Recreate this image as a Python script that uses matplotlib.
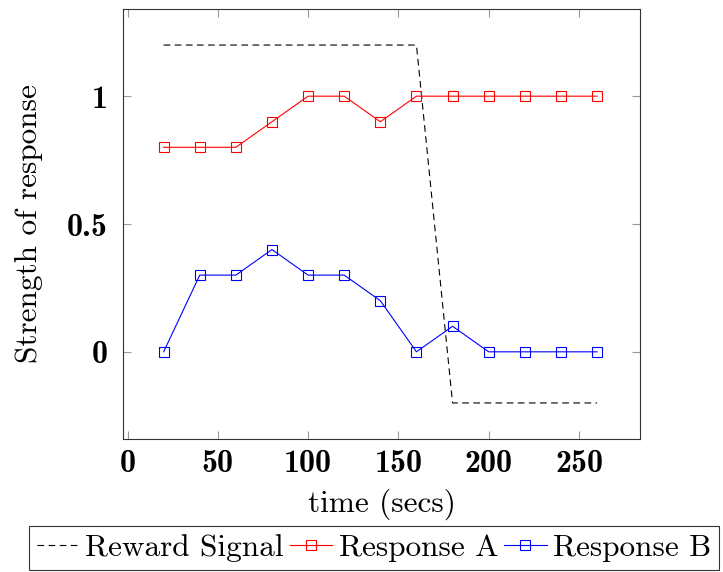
import matplotlib
matplotlib.use("Agg")
import matplotlib.pyplot as plt

# data
time_secs = [20, 40, 60, 80, 100, 120, 140, 160, 180, 200, 220, 240, 260]
response_a = [0.8, 0.8, 0.8, 0.9, 1.0, 1.0, 0.9, 1.0, 1.0, 1.0, 1.0, 1.0, 1.0]
response_b = [0.0, 0.3, 0.3, 0.4, 0.3, 0.3, 0.2, 0.0, 0.1, 0.0, 0.0, 0.0, 0.0]
reward_t = [20, 160, 180, 260]
reward_v = [1.2, 1.2, -0.2, -0.2]
x_ticks = [0, 50, 100, 150, 200, 250]
y_ticks = [0, 0.5, 1]
y_tick_labels = ["0", "0.5", "1"]

plt.rcParams["font.family"] = ["cmr10", "DejaVu Serif"]
plt.rcParams["axes.formatter.use_mathtext"] = True
plt.rcParams["mathtext.fontset"] = "cm"

W, H = 723, 572
fig = plt.figure(figsize=(W / 100, H / 100), dpi=100)
ax = fig.add_axes([123 / W, 1 - 439 / H, (640 - 123) / W, (439 - 9) / H])

l1, = ax.plot(reward_t, reward_v, color="black", lw=0.8, ls=(0, (6, 4)),
              label="Reward Signal")
l2, = ax.plot(time_secs, response_a, color="red", lw=0.8, marker="s",
              markersize=7.8, markerfacecolor="none", markeredgewidth=0.8,
              label="Response A")
l3, = ax.plot(time_secs, response_b, color="blue", lw=0.8, marker="s",
              markersize=7.8, markerfacecolor="none", markeredgewidth=0.8,
              label="Response B")

ax.set_xlim(-2.5, 283.8)
ax.set_ylim(-0.341, 1.341)
ax.set_xticks(x_ticks)
ax.set_xticklabels([str(t) for t in x_ticks])
ax.set_yticks(y_ticks)
ax.set_yticklabels(y_tick_labels)
for lab in ax.get_xticklabels() + ax.get_yticklabels():
    lab.set_fontfamily(["cmb10", "DejaVu Serif"])
    lab.set_fontsize(23)

ax.tick_params(direction="in", length=6, width=0.8, color="#999999",
               top=True, right=True)
ax.tick_params(axis="x", pad=7)
ax.tick_params(axis="y", pad=11)
for s in ax.spines.values():
    s.set_linewidth(0.8)
    s.set_color("#333333")

ax.set_xlabel("time (secs)", fontsize=22.5, labelpad=8)
ax.set_ylabel("Strength of response", fontsize=22.5, labelpad=17)

leg = fig.legend(handles=[l1, l2, l3], loc="upper left",
                 bbox_to_anchor=(29 / W, 1 - 526 / H), ncol=3, fontsize=22.5,
                 frameon=True, fancybox=False, edgecolor="black",
                 handlelength=1.35, handletextpad=0.2, columnspacing=0.2,
                 borderpad=0.25, borderaxespad=0, markerscale=0.85)
leg.get_frame().set_linewidth(0.8)

fig.savefig("out.png", dpi=100)
